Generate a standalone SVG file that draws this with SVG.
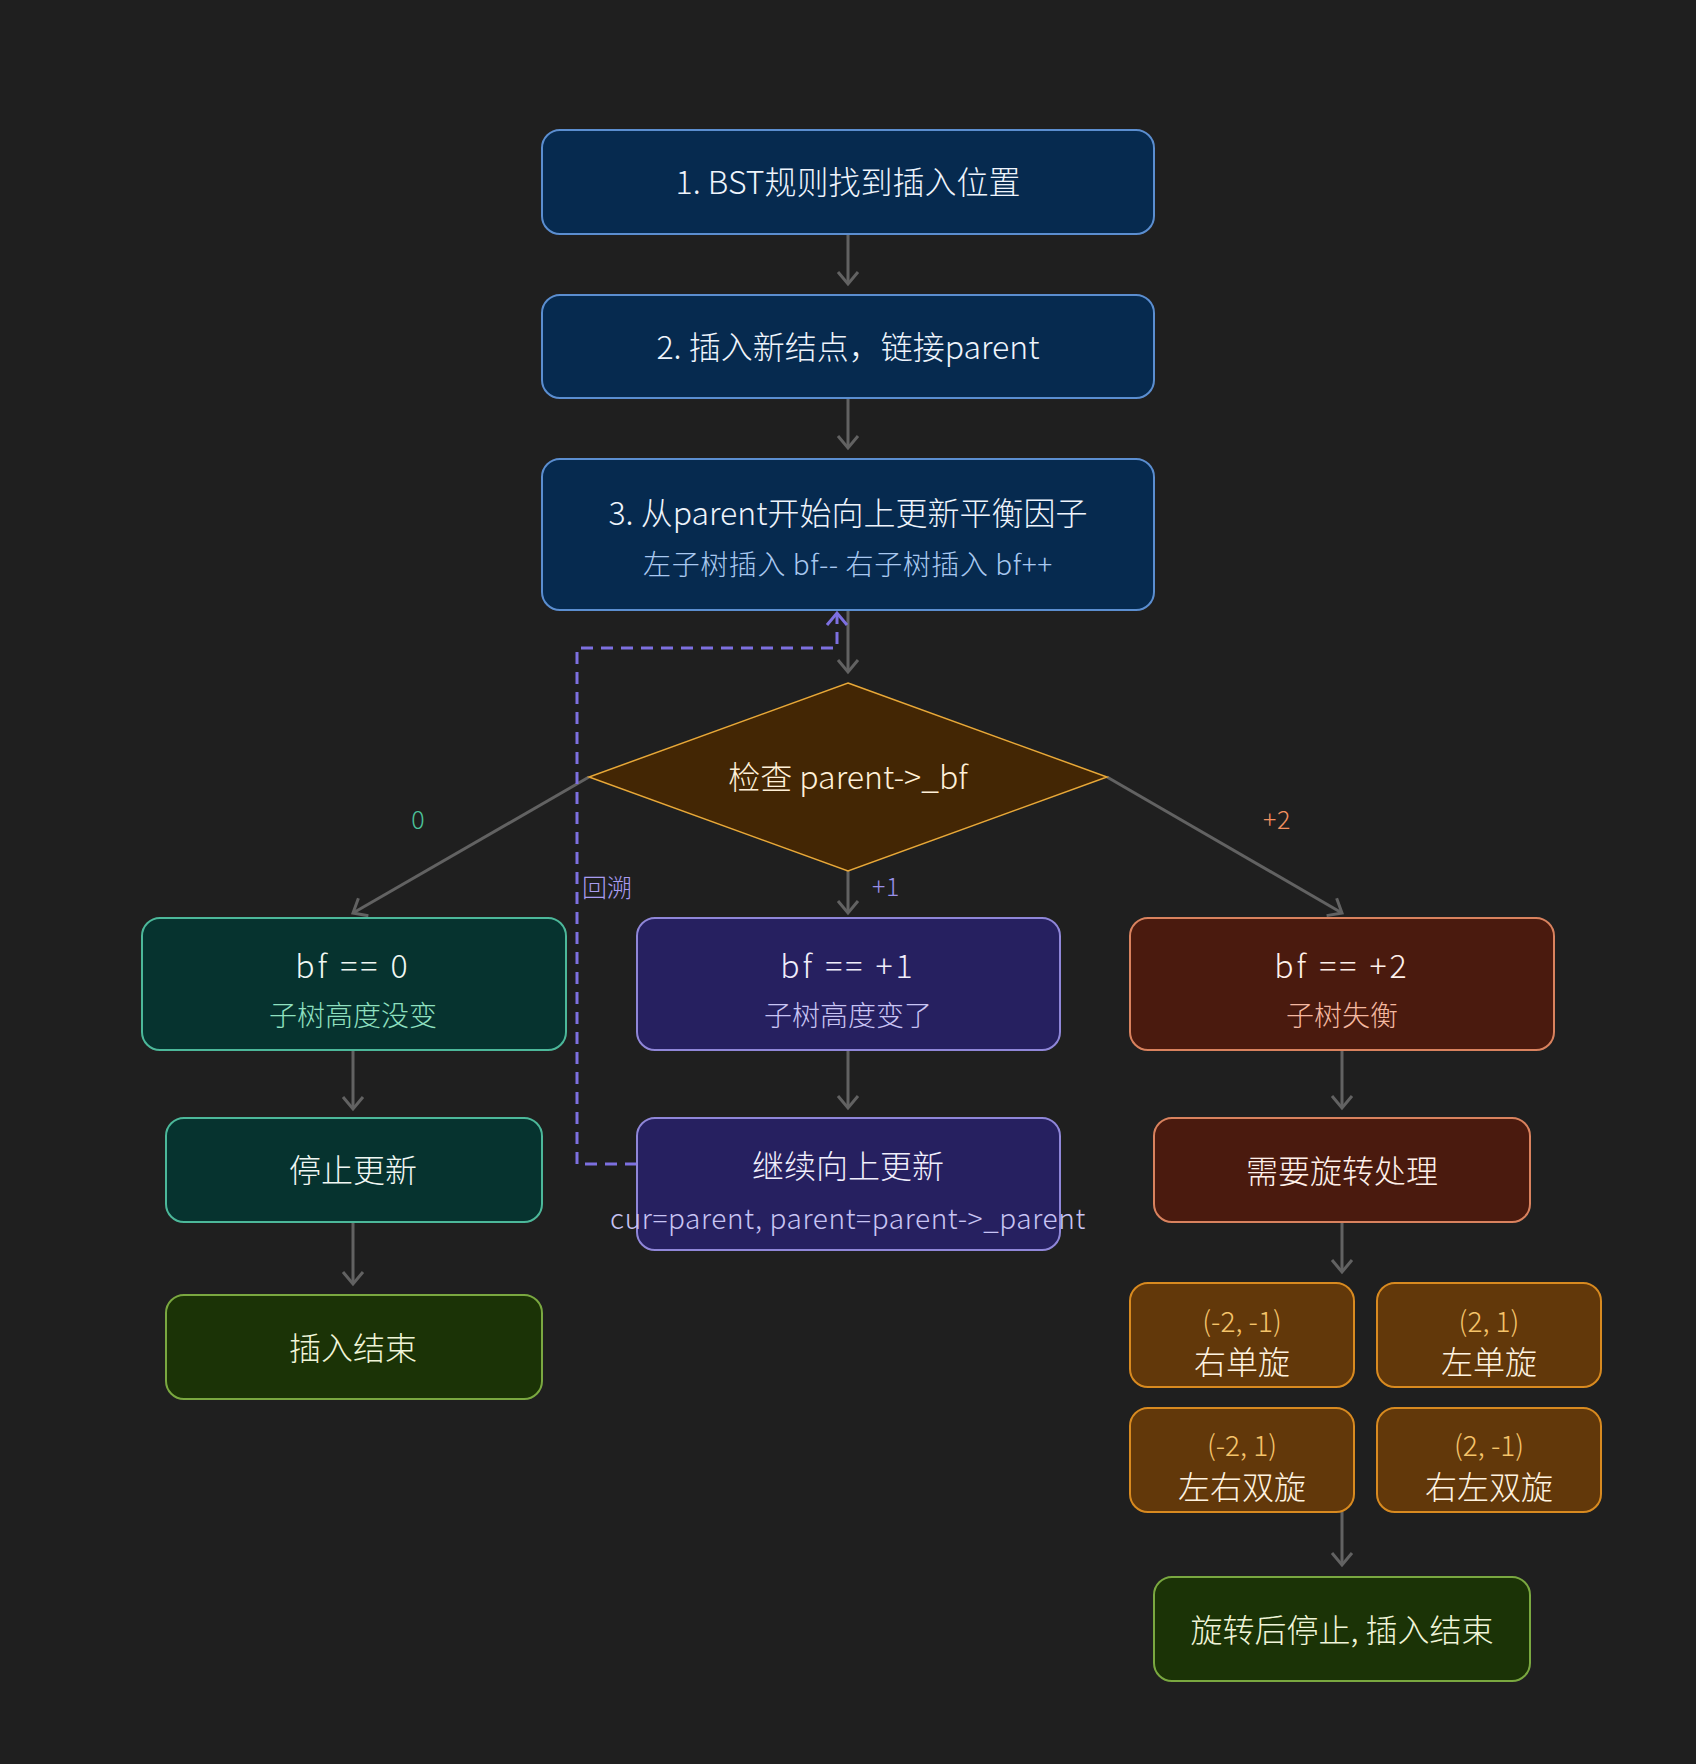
<svg xmlns="http://www.w3.org/2000/svg" width="1696" height="1764" viewBox="0 0 1696 1764">
<defs>
<marker id="ah" markerUnits="userSpaceOnUse" viewBox="-16 -16 32 32" markerWidth="32" markerHeight="32" refX="0" refY="0" orient="auto">
<path d="M-12,-10 L0,0 L-12,10" fill="none" stroke="#626262" stroke-width="3"/>
</marker>
<marker id="ahp" markerUnits="userSpaceOnUse" viewBox="-16 -16 32 32" markerWidth="32" markerHeight="32" refX="0" refY="0" orient="auto">
<path d="M-12,-10 L0,0 L-12,10" fill="none" stroke="#7d70e0" stroke-width="3"/>
</marker>
</defs>
<style>
text{font-family:"Noto Sans CJK SC","Noto Sans",sans-serif;font-weight:300;text-anchor:middle;dominant-baseline:central}
.t{font-size:32px}
.s{font-size:28px}
.l{font-size:25px}
.eq{letter-spacing:3px}
.ls{letter-spacing:0.6px}
.blue{fill:#062a4f;stroke:#5b8ed0;stroke-width:2}
.teal{fill:#06332f;stroke:#4cb89a;stroke-width:2}
.purp{fill:#262060;stroke:#8f86d8;stroke-width:2}
.red{fill:#4a1a0e;stroke:#d9825e;stroke-width:2}
.org{fill:#62380a;stroke:#d88a20;stroke-width:2}
.grn{fill:#1b3306;stroke:#7aa840;stroke-width:2}
.edge{fill:none;stroke:#626262;stroke-width:3;marker-end:url(#ah)}
</style>
<rect width="1696" height="1764" fill="#1f1f1f"/>

<g id="connectors">
<path class="edge" d="M848,234 V284"/>
<path class="edge" d="M848,398 V448"/>
<path class="edge" d="M848,610 V672"/>
<path class="edge" d="M589,777 L353,913"/>
<path class="edge" d="M848,871 V913"/>
<path class="edge" d="M1107,777 L1342,913"/>
<path class="edge" d="M353,1050 V1109"/>
<path class="edge" d="M353,1222 V1284"/>
<path class="edge" d="M848,1050 V1108"/>
<path class="edge" d="M1342,1050 V1108"/>
<path class="edge" d="M1342,1222 V1272"/>
<path class="edge" d="M1342,1512 V1565"/>
<path d="M637,1164 H577 V648 H837 V613" fill="none" stroke="#7d70e0" stroke-width="3" stroke-dasharray="12,8" marker-end="url(#ahp)"/>
<text class="l" x="418" y="818" fill="#4cc39a">0</text>
<text class="l ls" x="886" y="885" fill="#9890e8">+1</text>
<text class="l ls" x="1277" y="818" fill="#f09060">+2</text>
<text class="l" x="607" y="886" fill="#a89cf0">回溯</text>
</g>

<g id="n1"><rect class="blue" x="542" y="130" width="612" height="104" rx="18"/>
<text class="t" x="848" y="180" fill="#eef4fc">1. BST规则找到插入位置</text></g>

<g id="n2"><rect class="blue" x="542" y="295" width="612" height="103" rx="18"/>
<text class="t" x="848" y="345" fill="#eef4fc">2. 插入新结点，链接parent</text></g>

<g id="n3"><rect class="blue" x="542" y="459" width="612" height="151" rx="18"/>
<text class="t" x="848" y="511" fill="#eef4fc">3. 从parent开始向上更新平衡因子</text>
<text class="s ls" x="848" y="563" fill="#a8c8f0">左子树插入 bf-- 右子树插入 bf++</text></g>

<g id="check"><polygon points="848,683 1107,777 848,871 589,777" fill="#432604" stroke="#e8a838" stroke-width="1.5"/>
<text class="t" x="848" y="775" fill="#fff0d8">检查 parent-&gt;_bf</text></g>

<g id="bf0"><rect class="teal" x="142" y="918" width="424" height="132" rx="18"/>
<text class="t eq" x="353" y="964" fill="#f0f8f4">bf == 0</text>
<text class="s" x="353" y="1014" fill="#8fe0c0">子树高度没变</text></g>

<g id="bf1"><rect class="purp" x="637" y="918" width="423" height="132" rx="18"/>
<text class="t eq" x="848" y="964" fill="#f0eefc">bf == +1</text>
<text class="s" x="848" y="1014" fill="#c8c4f4">子树高度变了</text></g>

<g id="bf2"><rect class="red" x="1130" y="918" width="424" height="132" rx="18"/>
<text class="t eq" x="1342" y="964" fill="#fff0ea">bf == +2</text>
<text class="s" x="1342" y="1014" fill="#f4b8a0">子树失衡</text></g>

<g id="stop"><rect class="teal" x="166" y="1118" width="376" height="104" rx="18"/>
<text class="t" x="353" y="1168" fill="#f0f8f4">停止更新</text></g>

<g id="end1"><rect class="grn" x="166" y="1295" width="376" height="104" rx="18"/>
<text class="t" x="353" y="1346" fill="#f0f5d8">插入结束</text></g>

<g id="cont"><rect class="purp" x="637" y="1118" width="423" height="132" rx="18"/>
<text class="t" x="848" y="1164" fill="#f0eefc">继续向上更新</text>
<text class="s ls" x="848" y="1217" fill="#c8c4f4">cur=parent, parent=parent-&gt;_parent</text></g>

<g id="rot"><rect class="red" x="1154" y="1118" width="376" height="104" rx="18"/>
<text class="t" x="1342" y="1169" fill="#fff0ea">需要旋转处理</text></g>

<g id="r1"><rect class="org" x="1130" y="1283" width="224" height="104" rx="18"/>
<text class="s" x="1242" y="1320" fill="#f5c46a">(-2, -1)</text>
<text class="t" x="1242" y="1360" fill="#fff3e0">右单旋</text></g>

<g id="r2"><rect class="org" x="1377" y="1283" width="224" height="104" rx="18"/>
<text class="s" x="1489" y="1320" fill="#f5c46a">(2, 1)</text>
<text class="t" x="1489" y="1360" fill="#fff3e0">左单旋</text></g>

<g id="r3"><rect class="org" x="1130" y="1408" width="224" height="104" rx="18"/>
<text class="s" x="1242" y="1444" fill="#f5c46a">(-2, 1)</text>
<text class="t" x="1242" y="1485" fill="#fff3e0">左右双旋</text></g>

<g id="r4"><rect class="org" x="1377" y="1408" width="224" height="104" rx="18"/>
<text class="s" x="1489" y="1444" fill="#f5c46a">(2, -1)</text>
<text class="t" x="1489" y="1485" fill="#fff3e0">右左双旋</text></g>

<g id="end2"><rect class="grn" x="1154" y="1577" width="376" height="104" rx="18"/>
<text class="t" x="1342" y="1628" fill="#f0f5d8">旋转后停止, 插入结束</text></g>
</svg>
